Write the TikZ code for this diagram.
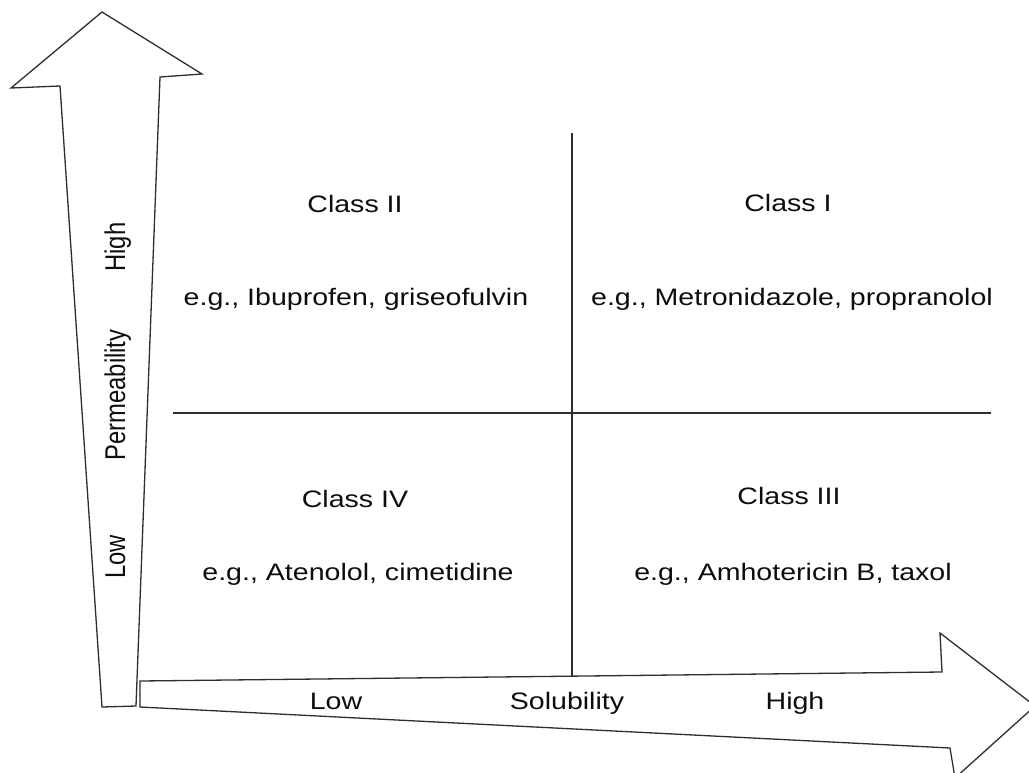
\documentclass[tikz,border=0pt]{standalone}
\usepackage{graphicx}
\usepackage{fontspec}
\setmainfont{Liberation Sans}
\newcommand\hstr[1]{\scalebox{1.2}[1]{#1}}
\newcommand\vstr[1]{\scalebox{1}[1.2]{#1}}
\begin{document}
\begin{tikzpicture}[x=1pt,y=-1pt,
  outline/.style={draw=black!82, line width=1.3pt, line join=miter, fill=white},
  divider/.style={draw=black!82, line width=1.3pt},
  lbl/.style={anchor=base, inner sep=0pt, text=black!95, font=\fontsize{23.8}{26}\selectfont}]
\useasboundingbox (0,0) rectangle (1029,772);
\clip (0,0) rectangle (1029,772);
% up arrow (Permeability)
\draw[outline] (102,707) -- (60,86) -- (11,88) -- (102,12) -- (202,74) -- (160,77) -- (136,706) -- cycle;
% right arrow (Solubility)
\draw[outline] (140,681) -- (942,672) -- (940,633) -- (1035,706) -- (955,778) -- (950,748) -- (140,707) -- cycle;
% dividers
\coordinate (vtop) at (572,133);
\coordinate (vbot) at (572,676);
\coordinate (hl) at (173,413);
\coordinate (hr) at (991,413);
\draw[divider] (vtop) -- (vbot);
\draw[divider] (hl) -- (hr);
% quadrant labels
\node[lbl] (c2) at (355,212) {\hstr{Class II}};
\node[lbl] (e2) at (356,305) {\hstr{e.g., Ibuprofen, griseofulvin}};
\node[lbl] (c1) at (788,211) {\hstr{Class I}};
\node[lbl] (e1) at (792,305) {\hstr{e.g., Metronidazole, propranolol}};
\node[lbl] (c4) at (355,507) {\hstr{Class IV}};
\node[lbl] (e4) at (358,580) {\hstr{e.g., Atenolol, cimetidine}};
\node[lbl] (c3) at (789,504) {\hstr{Class III}};
\node[lbl] (e3) at (793,580) {\hstr{e.g., Amhotericin B, taxol}};
% axis labels
\node[lbl] (slow) at (336,709) {\hstr{Low}};
\node[lbl] (sol) at (567,709) {\hstr{Solubility}};
\node[lbl] (shigh) at (795,709) {\hstr{High}};
\node[lbl, rotate=90] (phigh) at (125,247) {\vstr{High}};
\node[lbl, rotate=90] (perm) at (125,395) {\vstr{Permeability}};
\node[lbl, rotate=90] (plow) at (125,557) {\vstr{Low}};
\end{tikzpicture}
\end{document}
